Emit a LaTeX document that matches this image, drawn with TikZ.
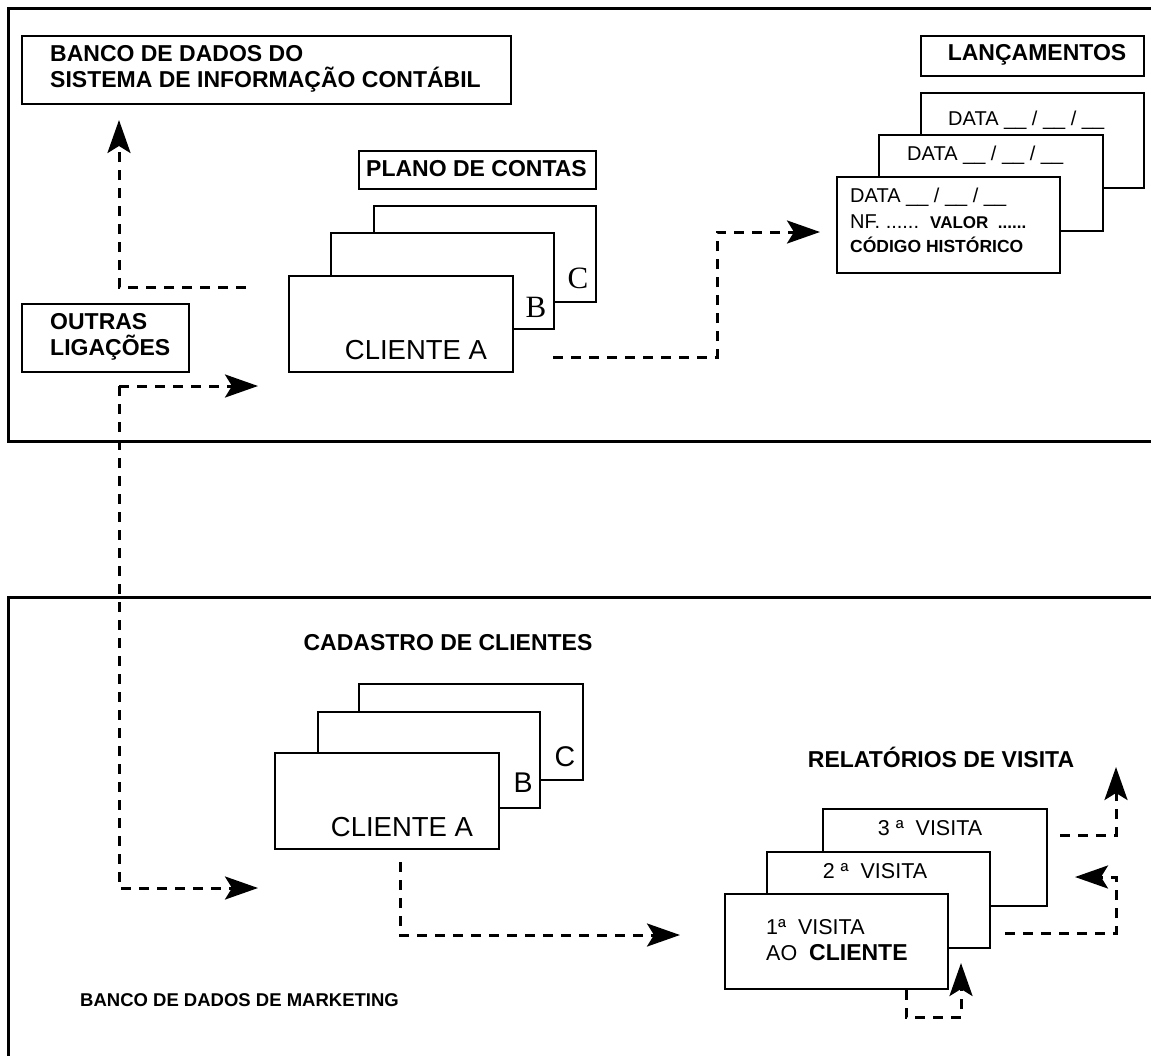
\documentclass[tikz,border=0pt]{standalone}
\usepackage{fontspec}
\setmainfont{Liberation Sans}
\newfontfamily\serifLS{Liberation Serif}
\usetikzlibrary{arrows.meta}
\begin{document}
\begin{tikzpicture}[x=1pt,y=-1pt,
  frame/.style={line width=3pt},
  box/.style={draw, line width=2pt, fill=white, inner sep=0pt, anchor=north west},
  conn/.style={line width=3pt, dash pattern=on 10pt off 8pt, -{Stealth[length=33pt,width=23pt,inset=7pt]}},
  ttl/.style={font=\fontsize{23}{26.5}\selectfont\bfseries, inner sep=0pt},
  mkt/.style={font=\fontsize{18.5}{22}\selectfont\bfseries, inner sep=0pt},
  reg/.style={font=\fontsize{20}{24}\selectfont, inner sep=0pt},
  vis/.style={font=\fontsize{21.5}{25}\selectfont, inner sep=0pt},
  big/.style={font=\fontsize{27.5}{30}\selectfont, inner sep=0pt},
  serifletter/.style={font=\serifLS\fontsize{31}{34}\selectfont, inner sep=0pt},
  sansletter/.style={font=\fontsize{28.5}{32}\selectfont, inner sep=0pt}
]
\useasboundingbox (0,0) rectangle (1151,1055);

% frames
\draw[frame] (1153,8) -- (8,8) -- (8,441) -- (1153,441);
\draw[frame] (1153,597) -- (8,597) -- (8,1057);

% top-left boxes
\node[box, minimum width=489pt, minimum height=68pt] (banco) at (21,35) {};
\node[ttl, anchor=west, align=left] (bancoT) at (50,69) {BANCO DE DADOS DO\\SISTEMA DE INFORMAÇÃO CONTÁBIL};
\node[box, minimum width=167pt, minimum height=68pt] (outras) at (21,303) {};
\node[ttl, anchor=west, align=left] (outrasT) at (50,337) {OUTRAS\\LIGAÇÕES};

% plano de contas
\node[box, minimum width=237pt, minimum height=38pt] (plano) at (358,150) {};
\node[ttl] (planoT) at (476.5,169) {PLANO DE CONTAS};
\node[box, minimum width=222pt, minimum height=96pt] (pcC) at (373,205) {};
\node[box, minimum width=223pt, minimum height=96pt] (pcB) at (330,232) {};
\node[box, minimum width=224pt, minimum height=96pt] (pcA) at (288,275) {};
\node[serifletter] (pcCl) at (578,278) {C};
\node[serifletter] (pcBl) at (536,307) {B};
\node[big] (pcAl) at (416,350) {CLIENTE A};

% lancamentos
\node[box, minimum width=223pt, minimum height=40pt] (lanc) at (920,35) {};
\node[ttl] (lancT) at (1037,55) {LANÇAMENTOS};
\node[box, minimum width=223pt, minimum height=95pt] (lc3) at (920,92) {};
\node[reg, anchor=west] (lc3t) at (948,120) {DATA \_\_ / \_\_ / \_\_};
\node[box, minimum width=224pt, minimum height=96pt] (lc2) at (878,134) {};
\node[reg, anchor=west] (lc2t) at (907,155) {DATA \_\_ / \_\_ / \_\_};
\node[box, minimum width=223pt, minimum height=96pt] (lc1) at (836,176) {};
\node[reg, anchor=west] (lc1a) at (850,197) {DATA \_\_ / \_\_ / \_\_};
\node[reg, anchor=west] (lc1b) at (850,222) {NF. ......\ \ {\fontsize{17}{20}\selectfont\bfseries VALOR\ \ ......}};
\node[reg, anchor=west, font=\fontsize{17.5}{20}\selectfont\bfseries] (lc1c) at (850,245) {CÓDIGO HISTÓRICO};

% cadastro
\node[ttl] (cadT) at (448,643) {CADASTRO DE CLIENTES};
\node[box, minimum width=224pt, minimum height=96pt] (caC) at (358,683) {};
\node[box, minimum width=222pt, minimum height=96pt] (caB) at (317,711) {};
\node[box, minimum width=224pt, minimum height=96pt] (caA) at (274,752) {};
\node[sansletter] (caCl) at (565,757) {C};
\node[sansletter] (caBl) at (523,783) {B};
\node[big] (caAl) at (402,827) {CLIENTE A};

% relatorios
\node[ttl] (relT) at (941,757) {RELATÓRIOS DE VISITA};
\node[box, minimum width=224pt, minimum height=97pt] (rv3) at (822,808) {};
\node[vis] (rv3t) at (930,828) {3 ª\ \ VISITA};
\node[box, minimum width=223pt, minimum height=96pt] (rv2) at (766,851) {};
\node[vis] (rv2t) at (875,871) {2 ª\ \ VISITA};
\node[box, minimum width=223pt, minimum height=95pt] (rv1) at (724,893) {};
\node[vis, anchor=west] (rv1a) at (766,927) {1ª\ \ VISITA};
\node[vis, anchor=west] (rv1b) at (766,953) {AO\ \ {\fontsize{23}{26}\selectfont\bfseries CLIENTE}};

\node[mkt, anchor=west] (mktT) at (80,1000) {BANCO DE DADOS DE MARKETING};

% connector coordinates
\coordinate (s1) at (246,287);
\coordinate (t1) at (119,120);
\coordinate (j2) at (119,386);
\coordinate (t2) at (258,386);
\coordinate (t2b) at (258,888);
\coordinate (s3) at (553,357);
\coordinate (k3) at (717,295);
\coordinate (t3) at (820,232);
\coordinate (s4) at (400,862);
\coordinate (t4) at (680,935);
\coordinate (s5) at (1060,835);
\coordinate (t5) at (1116,767);
\coordinate (s6) at (1005,933);
\coordinate (k6) at (1116,877);
\coordinate (t6) at (1075,877);
\coordinate (s7) at (906,990);
\coordinate (k7) at (961,1017);
\coordinate (t7) at (961,963);

\draw[conn] (s1) -| (t1);
\draw[conn] (j2) -- (t2);
\draw[conn] (j2) |- (t2b);
\draw[conn] (s3) -| (k3) |- (t3);
\draw[conn] (s4) |- (t4);
\draw[conn] (s5) -| (t5);
\draw[conn] (s6) -| (k6) -- (t6);
\draw[conn] (s7) |- (k7) -- (t7);
\end{tikzpicture}
\end{document}
